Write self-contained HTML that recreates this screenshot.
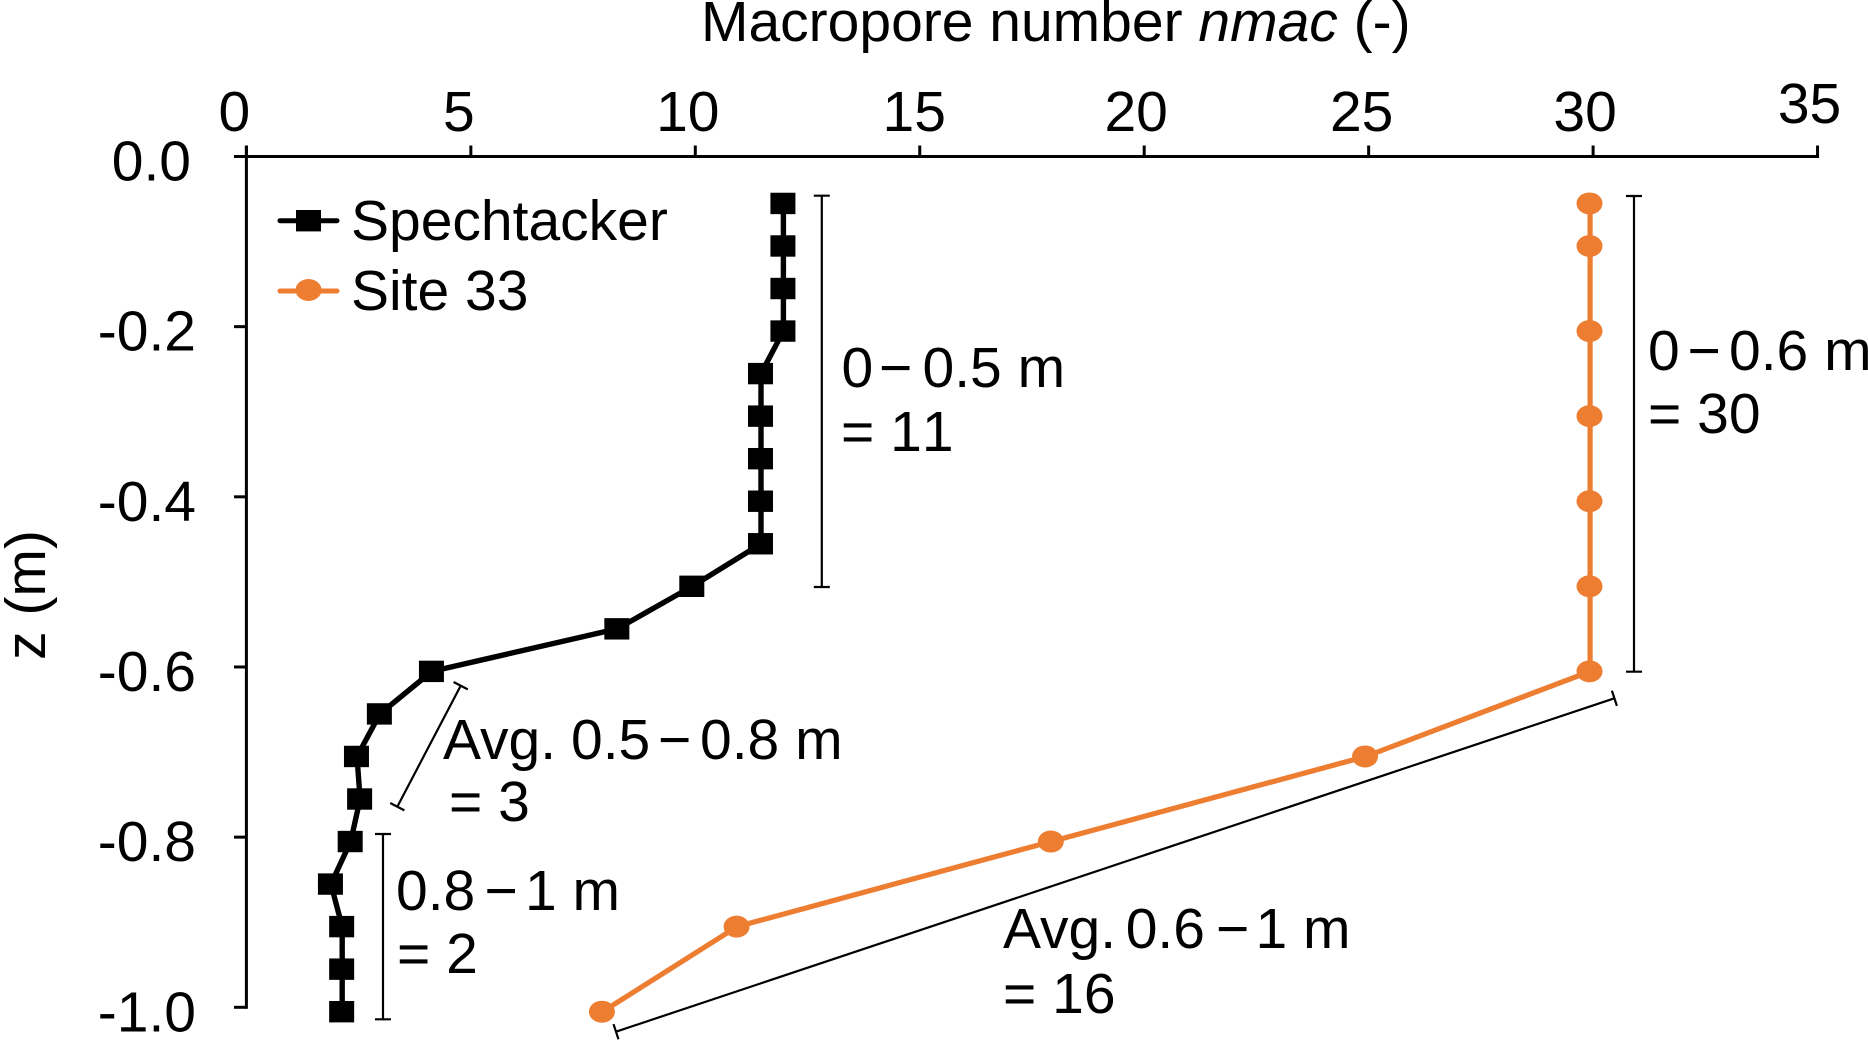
<!DOCTYPE html>
<html lang="en">
<head>
<meta charset="utf-8">
<title>Macropore number profile</title>
<style>
html,body{margin:0;padding:0;background:#fff;width:1868px;height:1041px;overflow:hidden}
svg{display:block;font-family:"Liberation Sans",Arial,sans-serif;font-size:57px;fill:#000}
</style>
</head>
<body>
<svg id="chart" xmlns="http://www.w3.org/2000/svg" width="1868" height="1041" viewBox="0 0 1868 1041">
  <text x="701" y="41">Macropore number <tspan font-style="italic">nmac</tspan> (-)</text>
  <text transform="translate(45,595) rotate(-90)" text-anchor="middle">z (m)</text>
  <g id="axes"></g>
  <g id="series"></g>

  <g stroke="#000" stroke-width="2.2" fill="none">
    <path d="M821.8 195.7V587M813.8 195.7H829.8M813.8 587H829.8"/>
  </g>
  <text y="387"><tspan x="841.5">0</tspan><tspan x="879">−</tspan><tspan x="922.5">0.5 m</tspan></text>
  <text x="841" y="451" style="font-kerning:none">= 11</text>

  <g stroke="#000" stroke-width="2.2" fill="none">
    <path d="M1634 196V671.7M1626 196H1642M1626 671.7H1642"/>
  </g>
  <text y="370"><tspan x="1648">0</tspan><tspan x="1687.5">−</tspan><tspan x="1729">0.6 m</tspan></text>
  <text x="1648" y="433">= 30</text>

  <g stroke="#000" stroke-width="2.2" fill="none">
    <path d="M460.7 685.7L397.3 806.7M453.6 682L467.8 689.4M390.2 803L404.4 810.4"/>
  </g>
  <text y="759"><tspan x="443">Avg.</tspan><tspan x="571">0.5</tspan><tspan x="658">−</tspan><tspan x="700">0.8 m</tspan></text>
  <text x="449" y="821">= 3</text>

  <g stroke="#000" stroke-width="2.2" fill="none">
    <path d="M383 834V1019.3M375 834H391M375 1019.3H391"/>
  </g>
  <text y="910"><tspan x="396">0.8</tspan><tspan x="484.5">−</tspan><tspan x="525">1 m</tspan></text>
  <text x="397" y="973">= 2</text>

  <g stroke="#000" stroke-width="2.2" fill="none">
    <path d="M1614.4 698.3L616 1031.7M1611.9 690.7L1616.9 705.9M613.5 1024.1L618.5 1039.3"/>
  </g>
  <text y="948"><tspan x="1003">Avg.</tspan><tspan x="1125.7">0.6</tspan><tspan x="1216">−</tspan><tspan x="1255.5">1 m</tspan></text>
  <text x="1003" y="1013" style="font-kerning:none">= 16</text>

  <g id="legend">
    <text x="351" y="240">Spechtacker</text>
    <text x="351" y="310">Site 33</text>
  </g>
</svg>
<script>
// Chart data
const xTickValues = [0, 5, 10, 15, 20, 25, 30, 35];
const xTickLabels = ["0", "5", "10", "15", "20", "25", "30", "35"];
const yTickValues = [0, -0.2, -0.4, -0.6, -0.8, -1.0];
const yTickLabels = ["0.0", "-0.2", "-0.4", "-0.6", "-0.8", "-1.0"];
const spechtackerDepth = [-0.05, -0.10, -0.15, -0.20, -0.25, -0.30, -0.35, -0.40, -0.45, -0.50, -0.55, -0.60, -0.65, -0.70, -0.75, -0.80, -0.85, -0.90, -0.95, -1.00];
const spechtackerNmac = [12.03, 12.03, 12.03, 12.03, 11.53, 11.53, 11.53, 11.53, 11.53, 10, 8.33, 4.2, 3.04, 2.53, 2.6, 2.39, 1.95, 2.2, 2.2, 2.2];
const site33Depth = [-0.05, -0.10, -0.20, -0.30, -0.40, -0.50, -0.60, -0.70, -0.80, -0.90, -1.00];
const site33Nmac = [30, 30, 30, 30, 30, 30, 30, 25, 18, 11, 8];

const SVG_NS = "http://www.w3.org/2000/svg";
function xAxis(v) { return 246.4 + 44.89 * v; }
function yAxis(z) { return 156.5 - 850.8 * z; }
// The series layer sits slightly offset from the printed axis in the figure.
function xMark(v) { return xAxis(v) - 3; }
function yMark(z) { return yAxis(z) + 4.4; }
function xLabelOffset(v) {
  if (v <= 5) return -12;
  if (v === 10) return -7.5;
  if (v === 15) return -5.5;
  if (v === 25) return -7;
  return -8;
}
function make(tag, attrs, parent) {
  const el = document.createElementNS(SVG_NS, tag);
  for (const k in attrs) el.setAttribute(k, attrs[k]);
  parent.appendChild(el);
  return el;
}

const axes = document.getElementById("axes");
const xAxisLine = make("line", {x1: xAxis(0) - 12.4, x2: xAxis(35) + 1.5, y1: yAxis(0), y2: yAxis(0), stroke: "#000", "stroke-width": 3}, axes);


const yAxisLine = make("line", {x1: xAxis(0), x2: xAxis(0), y1: yAxis(0) - 11, y2: yAxis(-1) + 1.5, stroke: "#000", "stroke-width": 3}, axes);



xTickValues.forEach(function (v, i) {
  const px = xAxis(v);
  const tick = make("line", {x1: px, x2: px, y1: yAxis(0), y2: yAxis(0) - 11, stroke: "#000", "stroke-width": 3}, axes);
  
  
  const label = make("text", {x: px + xLabelOffset(v), y: v === 35 ? 123 : 131, "text-anchor": "middle"}, axes);
  label.textContent = xTickLabels[i];
  
  
});

yTickValues.forEach(function (z, i) {
  const py = yAxis(z);
  const tick = make("line", {x1: xAxis(0) - 12.4, x2: xAxis(0), y1: py, y2: py, stroke: "#000", "stroke-width": 3}, axes);
  
  
  const label = make("text", {x: z === 0 ? 191 : 196, y: py + 24, "text-anchor": "end"}, axes);
  label.textContent = yTickLabels[i];
  
  
});

const seriesGroup = document.getElementById("series");
function linePoints(values, depths) {
  return values.map(function (v, i) { return xMark(v).toFixed(1) + "," + yMark(depths[i]).toFixed(1); }).join(" ");
}

const blackLine = make("polyline", {points: linePoints(spechtackerNmac, spechtackerDepth), fill: "none", stroke: "#000", "stroke-width": 5.4, "stroke-linejoin": "round"}, seriesGroup);


spechtackerNmac.forEach(function (v, i) {
  const sq = make("rect", {x: xMark(v) - 13, y: yMark(spechtackerDepth[i]) - 10.7, width: 25, height: 21.4, fill: "#000"}, seriesGroup);
  
  
});

const orangeLine = make("polyline", {points: linePoints(site33Nmac, site33Depth), fill: "none", stroke: "#ed7d31", "stroke-width": 5.2, "stroke-linejoin": "round"}, seriesGroup);


site33Nmac.forEach(function (v, i) {
  const dot = make("ellipse", {cx: xMark(v) - 0.6, cy: yMark(site33Depth[i]), rx: 13, ry: 11, fill: "#ed7d31"}, seriesGroup);
  
  
});

const legend = document.getElementById("legend");
const legendLineA = make("line", {x1: 280, x2: 337, y1: 220.7, y2: 220.7, stroke: "#000", "stroke-width": 5, "stroke-linecap": "round"}, legend);


const legendMarkA = make("rect", {x: 296, y: 210, width: 25, height: 21.4, fill: "#000"}, legend);


const legendLineB = make("line", {x1: 280, x2: 337, y1: 291, y2: 291, stroke: "#ed7d31", "stroke-width": 5, "stroke-linecap": "round"}, legend);


const legendMarkB = make("ellipse", {cx: 308.5, cy: 290, rx: 13, ry: 11, fill: "#ed7d31"}, legend);


</script>
</body>
</html>
